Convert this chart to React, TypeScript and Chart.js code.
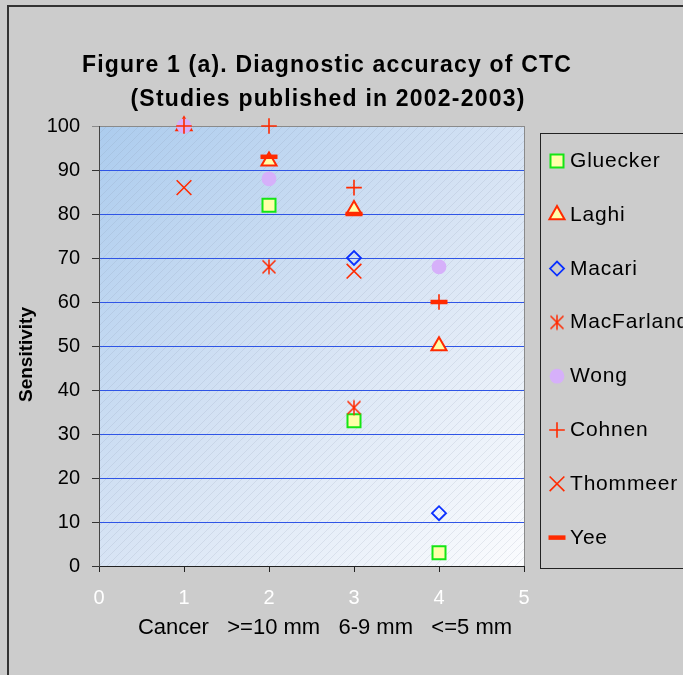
import React, { useEffect, useRef } from 'react';
import { Chart, registerables, PointElement } from 'chart.js';

Chart.register(...registerables);

// ---- data ----
const categoryNames = ['Cancer', '>=10 mm', '6-9 mm', '<=5 mm'];
const categoryX = [1, 2, 3, 4];
const seriesNames = ['Gluecker', 'Laghi', 'Macari', 'MacFarland', 'Wong', 'Cohnen', 'Thommeer', 'Yee'];
const gluecker = [null, 82, 33, 3];
const laghi = [100, 92, 81, 50];
const macari = [null, null, 70, 12];
const macFarland = [null, 68, 36, null];
const wong = [100, 88, null, 68];
const cohnen = [100, 100, 86, 60];
const thommeer = [86, null, 67, null];
const yee = [null, 93, 80, 60];
const seriesValues = [gluecker, laghi, macari, macFarland, wong, cohnen, thommeer, yee];

const titleLines = ['Figure 1 (a). Diagnostic accuracy of CTC', '(Studies published in 2002-2003)'];
const yAxisTitle = 'Sensitivity';
const xAxisTitle = categoryNames.join('   ');
const xMin = 0, xMax = 5, yMin = 0, yMax = 100, yStep = 10;

const FONT = "'Liberation Sans', Arial, Helvetica, sans-serif";
const RED = '#ff2a00';

function makeAsterisk(color: string) {
  const c = document.createElement('canvas');
  c.width = 18; c.height = 18;
  const g = c.getContext('2d')!;
  g.strokeStyle = color; g.lineWidth = 1.5;
  g.beginPath();
  g.moveTo(9, 1.5); g.lineTo(9, 16.5);
  g.moveTo(2.5, 2.5); g.lineTo(15.5, 15.5);
  g.moveTo(15.5, 2.5); g.lineTo(2.5, 15.5);
  g.stroke();
  return c;
}

function markerStyles(): any[] {
  return [
    { pointStyle: 'rect', radius: 9.2, borderWidth: 2, borderColor: '#14e614', backgroundColor: '#ffffa8' },
    { pointStyle: 'triangle', radius: 8.7, borderWidth: 2, borderColor: RED, backgroundColor: '#ffffa8' },
    { pointStyle: 'rectRot', radius: 7, borderWidth: 1.8, borderColor: '#0a30ff', backgroundColor: 'rgba(0,0,0,0)' },
    { pointStyle: makeAsterisk(RED), radius: 8, borderWidth: 0, borderColor: RED, backgroundColor: RED },
    { pointStyle: 'circle', radius: 7.4, borderWidth: 0, borderColor: '#d6b0fa', backgroundColor: '#d6b0fa' },
    { pointStyle: 'cross', radius: 7.8, borderWidth: 1.6, borderColor: RED, backgroundColor: RED },
    { pointStyle: 'crossRot', radius: 10.4, borderWidth: 1.6, borderColor: RED, backgroundColor: RED },
    { pointStyle: 'line', radius: 8.5, borderWidth: 4.5, borderColor: RED, backgroundColor: RED },
  ];
}

const decorPlugin = {
  id: 'decor',
  beforeDraw(chart: any) {
    const { ctx, chartArea: a, width, height } = chart;
    ctx.save();
    ctx.fillStyle = '#cccccc';
    ctx.fillRect(0, 0, width, height);
    // plot area gradient
    const g = ctx.createLinearGradient(a.left, a.top, a.right, a.bottom);
    g.addColorStop(0, '#acccee');
    g.addColorStop(0.5, '#d6e3f4');
    g.addColorStop(1, '#fbfcfe');
    ctx.fillStyle = g;
    ctx.fillRect(a.left, a.top, a.right - a.left, a.bottom - a.top);
    // faint diagonal hatch
    ctx.beginPath();
    ctx.rect(a.left, a.top, a.right - a.left, a.bottom - a.top);
    ctx.clip();
    ctx.strokeStyle = 'rgba(130,145,170,0.16)';
    ctx.lineWidth = 1;
    ctx.beginPath();
    const h = a.bottom - a.top;
    for (let k = -h; k < a.right - a.left; k += 8) {
      ctx.moveTo(a.left + k, a.bottom);
      ctx.lineTo(a.left + k + h, a.top);
    }
    ctx.stroke();
    ctx.restore();
    // outer frame
    ctx.save();
    ctx.strokeStyle = '#333';
    ctx.lineWidth = 2;
    ctx.beginPath();
    ctx.moveTo(8, height);
    ctx.lineTo(8, 6);
    ctx.lineTo(width, 6);
    ctx.stroke();
    ctx.restore();
  },
  beforeDatasetsDraw(chart: any) {
    const { ctx, chartArea: a } = chart;
    ctx.save();
    ctx.strokeStyle = '#8a8a8a';
    ctx.lineWidth = 1;
    ctx.beginPath();
    ctx.moveTo(Math.round(a.right) + 0.5, a.top);
    ctx.lineTo(Math.round(a.right) + 0.5, a.bottom);
    ctx.stroke();
    ctx.restore();
  },
  afterDraw(chart: any) {
    const { ctx } = chart;
    ctx.save();
    ctx.fillStyle = '#000';
    // title
    ctx.font = `bold 23px ${FONT}`;
    (ctx as any).letterSpacing = '1.2px';
    ctx.textAlign = 'center';
    ctx.textBaseline = 'alphabetic';
    ctx.fillText(titleLines[0], 327, 72);
    ctx.fillText(titleLines[1], 328, 106);
    // x title
    (ctx as any).letterSpacing = '0px';
    ctx.font = `22px ${FONT}`;
    ctx.fillText(xAxisTitle, 325, 634);
    // y title
    ctx.save();
    ctx.translate(32, 354.5);
    ctx.rotate(-Math.PI / 2);
    ctx.font = `bold 19px ${FONT}`;
    ctx.fillText(yAxisTitle, 0, 0);
    ctx.restore();
    // legend box
    ctx.strokeStyle = '#222';
    ctx.lineWidth = 1;
    ctx.strokeRect(540.5, 133.5, 300, 435);
    ctx.font = `21px ${FONT}`;
    (ctx as any).letterSpacing = '0.8px';
    ctx.textAlign = 'left';
    chart.data.datasets.forEach((ds: any, i: number) => {
      const base = 167 + i * 53.8;
      const meta = chart.getDatasetMeta(i);
      const el = meta.data[0];
      if (el) {
        const p: any = new PointElement({} as any);
        p.x = 557; p.y = base - 6; p.options = el.options;
        ctx.save();
        p.draw(ctx);
        ctx.restore();
      }
      ctx.fillStyle = '#000';
      ctx.fillText(ds.label, 570, base);
    });
    ctx.restore();
  },
};

export default function App() {
  const ref = useRef<HTMLCanvasElement>(null);
  useEffect(() => {
    const styles = markerStyles();
    const datasets = seriesNames.map((name, i) => ({
      label: name,
      data: categoryX
        .map((x, j) => (seriesValues[i][j] == null ? null : { x, y: seriesValues[i][j] as number }))
        .filter((p) => p !== null),
      showLine: false,
      clip: false as any,
      order: seriesNames.length - i,
      pointRadius: styles[i].radius,
      pointHoverRadius: styles[i].radius,
      pointStyle: styles[i].pointStyle,
      borderWidth: styles[i].borderWidth,
      pointBorderWidth: styles[i].borderWidth,
      borderColor: styles[i].borderColor,
      backgroundColor: styles[i].backgroundColor,
      pointBorderColor: styles[i].borderColor,
      pointBackgroundColor: styles[i].backgroundColor,
    }));
    const chart = new Chart(ref.current!, {
      type: 'scatter',
      data: { datasets: datasets as any },
      options: {
        responsive: false,
        animation: false,
        devicePixelRatio: 1,
        layout: { padding: { left: 0, top: 126, right: 159, bottom: 0 } },
        plugins: {
          legend: { display: false },
          title: { display: false },
          tooltip: { enabled: false },
        },
        scales: {
          x: {
            type: 'linear',
            min: xMin,
            max: xMax,
            ticks: { stepSize: 1, color: '#ffffff', font: { family: FONT, size: 20 }, padding: 14 },
            grid: { drawOnChartArea: false, tickLength: 6, color: '#222', tickColor: '#222' },
            border: { color: '#222', width: 1 },
            afterFit: (s: any) => { s.height = 109; },
          },
          y: {
            min: yMin,
            max: yMax,
            ticks: { stepSize: yStep, color: '#000', font: { family: FONT, size: 20 }, padding: 12 },
            grid: {
              tickLength: 7,
              lineWidth: 1,
              color: (c: any) => (c.tick && c.tick.value === yMax ? '#8a8a8a' : '#2f55e6'),
              tickColor: (c: any) => (c.tick && c.tick.value === yMax ? '#8a8a8a' : '#333'),
            },
            border: { color: '#444', width: 1 },
            afterFit: (s: any) => { s.width = 99; },
          },
        },
      },
      plugins: [decorPlugin],
    });
    return () => chart.destroy();
  }, []);
  return (
    <div style={{ position: 'absolute', left: 0, top: 0, width: 683, height: 675 }}>
      <canvas ref={ref} width={683} height={675} style={{ display: 'block', width: 683, height: 675 }} />
    </div>
  );
}
